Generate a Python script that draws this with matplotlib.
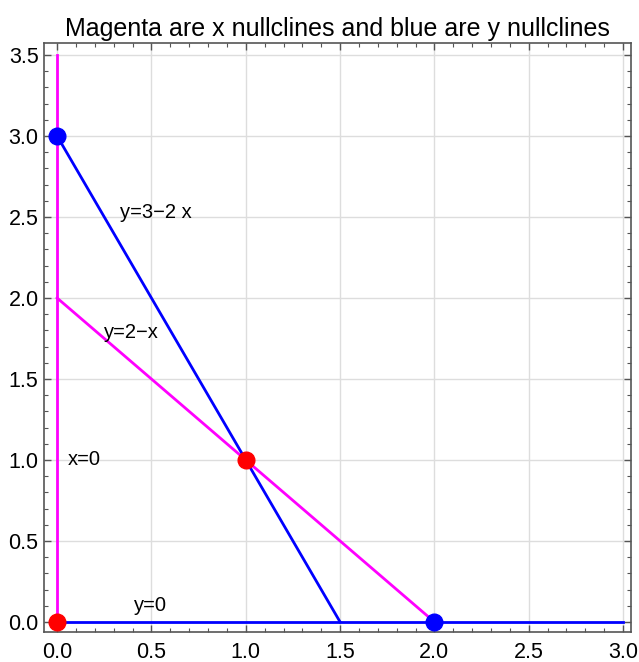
import matplotlib
matplotlib.use("Agg")
import matplotlib.pyplot as plt
from matplotlib.ticker import MultipleLocator, FormatStrFormatter

plt.rcParams['font.family'] = ['Liberation Sans', 'DejaVu Sans']

# nullcline segments: (x values, y values)
x_null_axis = ([0.0, 0.0], [0.0, 3.5])
x_null_line = ([0.0, 2.0], [2.0, 0.0])
y_null_line = ([0.0, 1.5], [3.0, 0.0])
y_null_axis = ([0.0, 3.0], [0.0, 0.0])

# equilibrium points
red_x = [0.0, 1.0]
red_y = [0.0, 1.0]
blue_x = [0.0, 2.0]
blue_y = [3.0, 0.0]

labels = ["y=3\u22122 x", "y=2\u2212x", "x=0", "y=0"]
label_x = [0.524, 0.395, 0.143, 0.495]
label_y = [2.53, 1.79, 1.0, 0.10]

fig = plt.figure(figsize=(6.39, 6.62), dpi=100)
ax = fig.add_axes([0.069, 0.0453, 0.9185, 0.8897])

lw = 2.0
ax.plot(*x_null_axis, color='magenta', lw=lw, zorder=2)
ax.plot(*x_null_line, color='magenta', lw=lw, zorder=2)
ax.plot(*y_null_line, color='blue', lw=lw, zorder=2)
ax.plot(*y_null_axis, color='blue', lw=lw, zorder=2)

ax.plot(red_x, red_y, 'o', color='red', ms=12, zorder=3, clip_on=False)
ax.plot(blue_x, blue_y, 'o', color='blue', ms=12, zorder=3, clip_on=False)

for t, lx, ly in zip(labels, label_x, label_y):
    ax.text(lx, ly, t, fontsize=14.5, ha='center', va='center', zorder=4)

ax.set_xlim(-0.069, 3.042)
ax.set_ylim(-0.062, 3.574)
ax.xaxis.set_major_locator(MultipleLocator(0.5))
ax.yaxis.set_major_locator(MultipleLocator(0.5))
ax.xaxis.set_minor_locator(MultipleLocator(0.1))
ax.yaxis.set_minor_locator(MultipleLocator(0.1))
ax.xaxis.set_major_formatter(FormatStrFormatter('%.1f'))
ax.yaxis.set_major_formatter(FormatStrFormatter('%.1f'))

ax.tick_params(which='both', direction='in', top=True, right=True,
               color='#555555', labelsize=15.5)
ax.tick_params(which='major', length=5, width=1)
ax.tick_params(which='minor', length=3, width=0.8)
ax.tick_params(axis='x', pad=7)
ax.tick_params(axis='y', pad=4)

ax.grid(True, which='major', color='#dddddd', lw=1, zorder=1)
ax.set_axisbelow(True)
for s in ax.spines.values():
    s.set_color('#555555')
    s.set_linewidth(1.2)

ax.set_title("Magenta are x nullclines and blue are y nullclines", fontsize=18, pad=5)

fig.savefig("out.png", dpi=100)
